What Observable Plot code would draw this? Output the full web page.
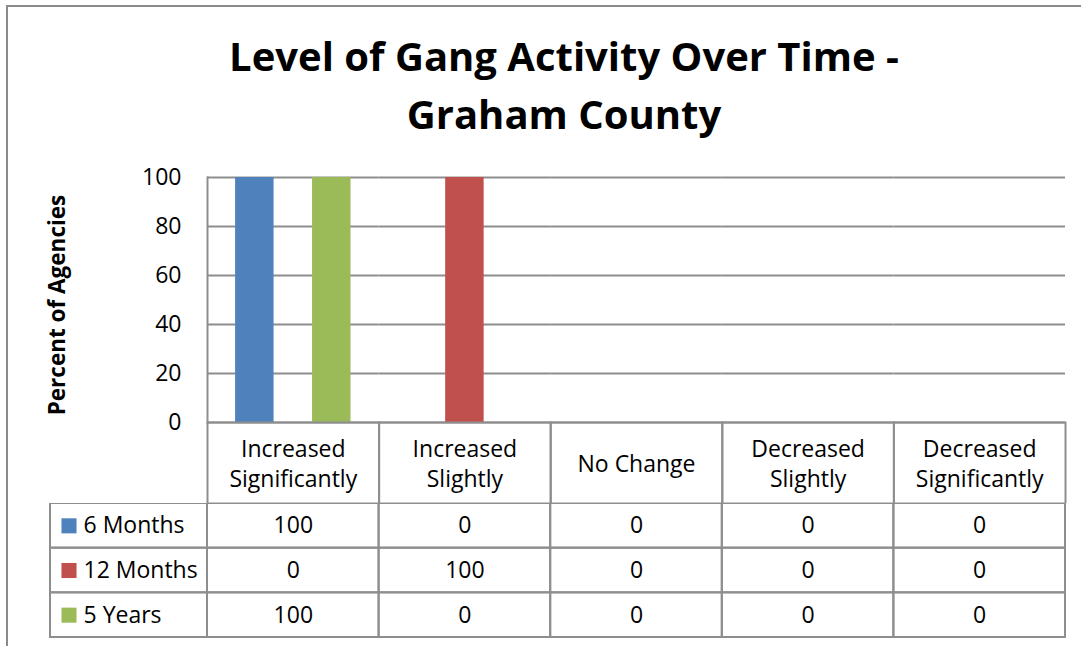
<!DOCTYPE html>
<html>
<head>
<meta charset="utf-8">
<script src="https://cdn.jsdelivr.net/npm/d3@7"></script>
<script src="https://cdn.jsdelivr.net/npm/@observablehq/plot@0.6"></script>
<style>
  html, body { margin: 0; padding: 0; background: #fff; }
  body { width: 1081px; height: 646px; position: relative; overflow: hidden; font-family: "Open Sans", sans-serif; }
  #chart svg { display: block; }
  #title { position: absolute; left: 64px; width: 1000px; top: 27px; text-align: center; font-weight: 700; font-size: 40px; line-height: 58px; color: #000; z-index: 4; }
  #border { position: absolute; left: 6px; top: 5px; width: 2000px; height: 2000px; border-left: 2px solid #8a8a8a; border-top: 2px solid #8a8a8a; pointer-events: none; z-index: 5; }
</style>
</head>
<body>
<div id="chart"></div>
<div id="title">Level of Gang Activity Over Time -<br>Graham County</div>
<div id="border"></div>
<script>
// ---- data ----
const categories = ["Increased Significantly", "Increased Slightly", "No Change", "Decreased Slightly", "Decreased Significantly"];
const categoryLabels = ["Increased\nSignificantly", "Increased\nSlightly", "No Change", "Decreased\nSlightly", "Decreased\nSignificantly"];
const seriesNames = ["6 Months", "12 Months", "5 Years"];
const sixMonths = [100, 0, 0, 0, 0];
const twelveMonths = [0, 100, 0, 0, 0];
const fiveYears = [100, 0, 0, 0, 0];
const seriesColors = ["#4F81BD", "#C0504D", "#9BBB59"];
const yTicks = [0, 20, 40, 60, 80, 100];
const yLabel = "Percent of Agencies";

const seriesValues = [sixMonths, twelveMonths, fiveYears];
const rows = seriesNames.flatMap((s, i) =>
  categories.map((c, j) => ({series: s, category: c, value: seriesValues[i][j]}))
);

// ---- layout / style ----
const GRID = "#8e8e8e";
const SW = 2;
const FONT = '"Open Sans", sans-serif';
const W = 1081;
const mL = 207, mR = 16;
const bandW = (W - mL - mR) / categories.length;
const labelColW = 157;

const chart1 = Plot.plot({
  width: W, height: 503,
  marginLeft: mL, marginRight: mR, marginTop: 177, marginBottom: 81,
  style: {fontFamily: FONT, color: "#000", background: "transparent"},
  fx: {domain: categories, padding: 0, round: false, label: null},
  x: {domain: seriesNames, paddingInner: 0, paddingOuter: 0.73, round: false, axis: null},
  y: {domain: [0, 100], label: null},
  color: {domain: seriesNames, range: seriesColors},
  marks: [
    Plot.ruleY(yTicks, {stroke: GRID, strokeWidth: SW}),
    Plot.barY(rows, {fx: "category", x: "series", y: "value", fill: "series"}),
    Plot.frame({stroke: GRID, strokeWidth: SW, insetTop: 164, dy: 81}),
    Plot.frame({anchor: "left", facetAnchor: "left", stroke: GRID, strokeWidth: SW}),
    Plot.axisY({ticks: yTicks, tickSize: 0, tickPadding: 26, fontSize: 23, label: null}),
    Plot.axisFx({anchor: "bottom", tickSize: 0, tickPadding: 40, lineAnchor: "middle", lineHeight: 1.32, fontSize: 23, label: null,
      tickFormat: d => categoryLabels[categories.indexOf(d)]}),
    Plot.text([yLabel], {fx: () => categories[0], text: d => d, frameAnchor: "left", textAnchor: "middle",
      dx: -149.5, dy: 5, rotate: -90, fontWeight: "bold", fontSize: 22.5})
  ]
});

const chart2 = Plot.plot({
  width: W, height: 143,
  marginLeft: mL, marginRight: mR, marginTop: 0, marginBottom: 9,
  style: {fontFamily: FONT, color: "#000", background: "transparent"},
  x: {domain: categories, padding: 0, round: false, axis: null},
  y: {domain: seriesNames, padding: 0, round: false, axis: null},
  color: {domain: seriesNames, range: seriesColors},
  marks: [
    Plot.cell(rows, {x: "category", y: "series", stroke: GRID, strokeWidth: SW, fill: "none"}),
    Plot.cell(seriesNames, {x: () => categories[0], y: d => d, dx: -labelColW, insetRight: bandW - labelColW,
      stroke: GRID, strokeWidth: SW, fill: "none"}),
    Plot.text(rows, {x: "category", y: "series", text: "value", fontSize: 23}),
    Plot.dot(seriesNames, {y: d => d, frameAnchor: "left", dx: -138.5, symbol: "square", r: 8.5, fill: d => d}),
    Plot.text(seriesNames, {y: d => d, text: d => d, frameAnchor: "left", dx: -124, textAnchor: "start", fontSize: 23})
  ]
});

document.getElementById("chart").append(chart1, chart2);
</script>
</body>
</html>
